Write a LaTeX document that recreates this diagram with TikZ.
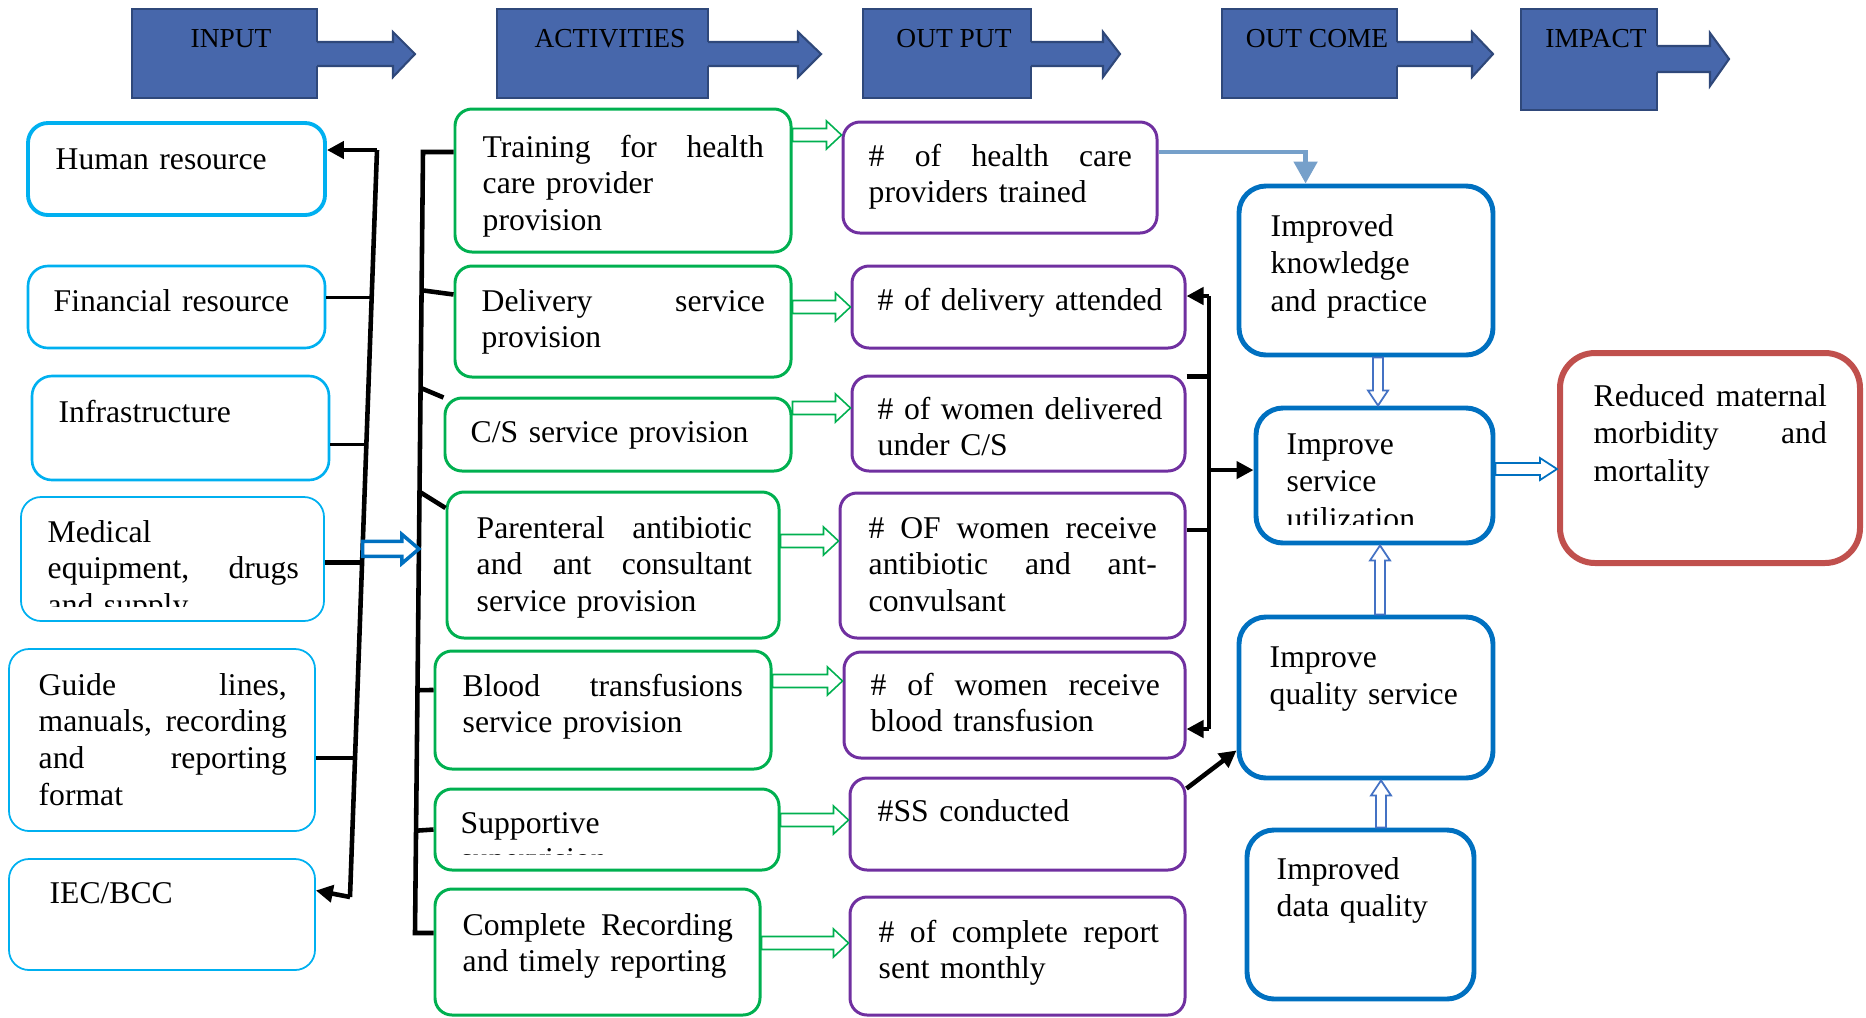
\documentclass[tikz,border=0pt]{standalone}
\usepackage{fontspec}
\setmainfont{Liberation Serif}
\usetikzlibrary{arrows.meta,calc,fit}
\definecolor{hdrfill}{RGB}{71,103,171}
\definecolor{hdredge}{RGB}{47,72,122}
\definecolor{incol}{RGB}{0,176,240}
\definecolor{actcol}{RGB}{0,176,80}
\definecolor{outcol}{RGB}{112,48,160}
\definecolor{occol}{RGB}{0,112,192}
\definecolor{impcol}{RGB}{192,80,77}
\definecolor{linkcol}{RGB}{118,160,202}
\definecolor{hollowcol}{RGB}{68,114,196}
\tikzset{
  box/.style={draw, rounded corners=0.17cm, inner sep=0pt},
  inbox/.style={box, draw=incol, line width=0.5pt, rounded corners=0.2cm},
  actbox/.style={box, draw=actcol, line width=0.85pt},
  outbox/.style={box, draw=outcol, line width=0.85pt},
  ocbox/.style={box, draw=occol, line width=1.4pt, rounded corners=0.27cm},
  impbox/.style={box, draw=impcol, line width=1.7pt, rounded corners=0.35cm},
  hdr/.style={draw=hdredge, fill=hdrfill, line width=0.6pt, inner sep=0pt},
  hdrtxt/.style={font=\fontsize{7.8}{9}\selectfont, inner sep=0pt, anchor=base},
  txt/.style={font=\fontsize{9}{10.5}\selectfont, inner sep=0pt, anchor=base west, align=left, text width=3.2cm},
  octxt/.style={txt, font=\fontsize{9}{10.8}\selectfont},
  brk/.style={line width=1.3pt},
  thin brk/.style={line width=0.9pt},
  hblk/.style n args={3}{to path={let \p1=(\tikztostart), \p2=(\tikztotarget) in
    ({\x1},{\y1+#1}) -- ({\x2-#3},{\y1+#1}) -- ({\x2-#3},{\y1+#2}) -- ({\x2},{\y1})
    -- ({\x2-#3},{\y1-#2}) -- ({\x2-#3},{\y1-#1}) -- ({\x1},{\y1-#1}) -- cycle}},
  vblk/.style n args={3}{to path={let \p1=(\tikztostart), \p2=(\tikztotarget),
    \p3=($(\x1,\y2)!#3!(\x1,\y1)$) in
    ({\x1-#1},{\y1}) -- ({\x1-#1},{\y3}) -- ({\x1-#2},{\y3}) -- ({\x1},{\y2})
    -- ({\x1+#2},{\y3}) -- ({\x1+#1},{\y3}) -- ({\x1+#1},{\y1}) -- cycle}},
  garrow/.style={draw=actcol, fill=white, line width=0.45pt, hblk={0.065cm}{0.14cm}{0.15cm}},
  barrow/.style={draw=occol, fill=white, line width=1pt, hblk={0.075cm}{0.145cm}{0.17cm}},
  varrow/.style={draw=hollowcol, fill=white, line width=0.5pt, vblk={0.05cm}{0.1cm}{0.15cm}},
  rarrow/.style={draw=occol, fill=white, line width=0.5pt, hblk={0.06cm}{0.11cm}{0.17cm}},
}
\begin{document}
\begin{tikzpicture}[x=0.01cm, y=-0.01cm, >={Triangle[length=0.17cm,width=0.17cm]}]
\useasboundingbox (0,0) rectangle (1866,1017);
% header row
\node[hdr, fit={(132,9) (317,98)}] (hin) {};
\fill[hdrfill] (315,42) -- (393,42) -- (393,32) -- (415,54) -- (393,77) -- (393,66) -- (315,66) -- cycle;
\draw[hdredge, line width=0.6pt] (317,42) -- (393,42) -- (393,32) -- (415,54) -- (393,77) -- (393,66) -- (317,66);
\node[hdrtxt] (hin-t) at (231,47) {INPUT};
\node[hdr, fit={(497,9) (708,98)}] (hact) {};
\fill[hdrfill] (706,42) -- (798,42) -- (798,32) -- (821,54) -- (798,77) -- (798,66) -- (706,66) -- cycle;
\draw[hdredge, line width=0.6pt] (708,42) -- (798,42) -- (798,32) -- (821,54) -- (798,77) -- (798,66) -- (708,66);
\node[hdrtxt] (hact-t) at (610,47) {ACTIVITIES};
\node[hdr, fit={(863,9) (1031,98)}] (hout) {};
\fill[hdrfill] (1029,42) -- (1103,42) -- (1103,32) -- (1120,54) -- (1103,77) -- (1103,66) -- (1029,66) -- cycle;
\draw[hdredge, line width=0.6pt] (1031,42) -- (1103,42) -- (1103,32) -- (1120,54) -- (1103,77) -- (1103,66) -- (1031,66);
\node[hdrtxt] (hout-t) at (954,47) {OUT PUT};
\node[hdr, fit={(1222,9) (1397,98)}] (hoc) {};
\fill[hdrfill] (1395,42) -- (1472,42) -- (1472,32) -- (1493,54) -- (1472,77) -- (1472,66) -- (1395,66) -- cycle;
\draw[hdredge, line width=0.6pt] (1397,42) -- (1472,42) -- (1472,32) -- (1493,54) -- (1472,77) -- (1472,66) -- (1397,66);
\node[hdrtxt] (hoc-t) at (1317,47) {OUT COME};
\node[hdr, fit={(1521,9) (1657,110)}] (himp) {};
\fill[hdrfill] (1655,46) -- (1710,46) -- (1710,33) -- (1729,59) -- (1710,86) -- (1710,72) -- (1655,72) -- cycle;
\draw[hdredge, line width=0.6pt] (1657,46) -- (1710,46) -- (1710,33) -- (1729,59) -- (1710,86) -- (1710,72) -- (1657,72);
\node[hdrtxt] (himp-t) at (1596,47) {IMPACT};

% input boxes
\node[inbox, line width=1.1pt, fit={(28,123) (325,215)}] (hr) {};
\node[inbox, line width=0.75pt, fit={(28,266) (325,348)}] (fin) {};
\node[inbox, line width=0.75pt, fit={(32,376) (329,480)}] (infra) {};
\node[inbox, fit={(21,497) (324,621)}] (med) {};
\node[inbox, fit={(9,649) (315,831)}] (guide) {};
\node[inbox, fit={(9,859) (315,970)}] (iec) {};
\node[txt] (hr-t) at (55,169) {Human resource};
\node[txt] (fin-t) at (53,311) {Financial resource};
\node[txt] (infra-t) at (58,422) {Infrastructure};
\begin{scope}
\clip (med.north west) rectangle (med.east |- 0,606);
\node[txt, text width=2.51cm] (med-t) at (47,542) {Medical\\ equipment,\hfill drugs\\ and supply};
\end{scope}
\node[txt, text width=2.48cm] (guide-t) at (38,695) {Guide\hfill lines,\\ manuals,\hfill recording\\ and\hfill reporting\\ format};
\node[txt] (iec-t) at (49,903) {IEC/BCC};

% activity boxes
\node[actbox, fit={(455,109) (791,252)}] (trn) {};
\node[actbox, fit={(455,266) (791,377)}] (dlv) {};
\node[actbox, fit={(445,398) (791,471)}] (csp) {};
\node[actbox, fit={(447,492) (779,638)}] (par) {};
\node[actbox, fit={(435,651) (771,769)}] (bts) {};
\node[actbox, fit={(435,789) (779,870)}] (sup) {};
\node[actbox, fit={(435,889) (760,1015)}] (crr) {};
\node[txt, text width=2.81cm] (trn-t) at (482,157) {Training\hfill for\hfill health\\ care provider\\ provision};
\node[txt, text width=2.83cm] (dlv-t) at (481,311) {Delivery\hfill service\\ provision};
\node[txt] (csp-t) at (470,442) {C/S service provision};
\node[txt, text width=2.75cm] (par-t) at (476,538) {Parenteral\hfill antibiotic\\ and\hfill ant\hfill consultant\\ service provision};
\node[txt, text width=2.80cm] (bts-t) at (462,696) {Blood\hfill transfusions\\ service provision};
\begin{scope}
\clip (sup.north west) rectangle (sup.east |- 0,854);
\node[txt] (sup-t) at (460,833) {Supportive\\ supervision};
\end{scope}
\node[txt, text width=2.70cm] (crr-t) at (462,935) {Complete\hfill Recording\\ and timely reporting};

% output boxes
\node[outbox, fit={(843,122) (1157,233)}] (hcp) {};
\node[outbox, fit={(852,266) (1185,348)}] (del) {};
\node[outbox, fit={(852,376) (1185,471)}] (csd) {};
\node[outbox, fit={(840,493) (1185,638)}] (abx) {};
\node[outbox, fit={(844,652) (1185,758)}] (bld) {};
\node[outbox, fit={(850,778) (1185,870)}] (ssc) {};
\node[outbox, fit={(850,897) (1185,1015)}] (rep) {};
\node[txt, text width=2.63cm] (hcp-t) at (868,166) {\#\hfill of\hfill health\hfill care\\ providers trained};
\node[txt] (del-t) at (877,310) {\# of delivery attended};
\node[txt] (csd-t) at (877,419) {\# of women delivered\\ under C/S};
\node[txt, text width=2.88cm] (abx-t) at (868,538) {\#\hfill OF\hfill women\hfill receive\\ antibiotic\hfill and\hfill ant-\\ convulsant};
\node[txt, text width=2.89cm] (bld-t) at (870,695) {\#\hfill of\hfill women\hfill receive\\ blood transfusion};
\node[txt] (ssc-t) at (877,821) {\#SS conducted};
\node[txt, text width=2.80cm] (rep-t) at (878,942) {\#\hfill of\hfill complete\hfill report\\ sent monthly};

% outcome and impact boxes
\node[ocbox, fit={(1239,186) (1493,355)}] (know) {};
\node[ocbox, fit={(1256,408) (1493,543)}] (util) {};
\node[ocbox, fit={(1239,617) (1493,778)}] (qual) {};
\node[ocbox, fit={(1247,830) (1474,999)}] (data) {};
\node[impbox, fit={(1560,353) (1860,563)}] (red) {};
\node[octxt] (know-t) at (1270,236) {Improved\\ knowledge\\ and practice};
\begin{scope}
\clip (util.north west) rectangle (util.east |- 0,524);
\node[octxt] (util-t) at (1286,454) {Improve\\ service\\ utilization};
\end{scope}
\node[octxt] (qual-t) at (1269,667) {Improve\\ quality service};
\node[octxt] (data-t) at (1276,879) {Improved\\ data quality};
\node[octxt, text width=2.33cm] (red-t) at (1593,406) {Reduced\hfill maternal\\ morbidity\hfill and\\ mortality};

% input bracket
\coordinate (is1) at (377,150);
\coordinate (is2) at (350,897);
\path (is1) -- (is2) coordinate[pos=0.197] (ib1) coordinate[pos=0.394] (ib2)
  coordinate[pos=0.552] (ib3) coordinate[pos=0.814] (ib4) coordinate[pos=0.534] (ibx);
\draw[brk] (is1) -- (is2);
\draw[brk, ->] (is1) -- (hr.east |- is1);
\draw[brk, ->] (is2) -- ([yshift=0.24cm]iec.east);
\draw[thin brk] (fin.east |- ib1) -- (ib1);
\draw[thin brk] (infra.east |- ib2) -- (ib2);
\draw[brk] (med.east |- ib3) -- (ib3);
\draw[brk] (guide.east |- ib4) -- (ib4);

% activity bracket
\coordinate (as1) at (423,152);
\coordinate (as2) at (415,933);
\path (as1) -- (as2) coordinate[pos=0.177] (ab1) coordinate[pos=0.302] (ab2)
  coordinate[pos=0.435] (ab3) coordinate[pos=0.689] (ab4) coordinate[pos=0.869] (ab5)
  coordinate[pos=0.508] (abx2);
\draw[brk] (trn.west |- as1) -- (as1) -- (as2) -- (crr.west |- as2);
\draw[brk] (ab1) -- ([yshift=0.27cm]dlv.west);
\draw[brk] (ab2) -- ([yshift=0.37cm]csp.west);
\draw[brk] (ab3) -- ([yshift=0.57cm]par.west);
\draw[brk] (ab4) -- ([yshift=0.2cm]bts.west);
\draw[brk] (ab5) -- (sup.west);
\draw[barrow] (ibx) to (abx2);

% activity to output
\draw[garrow] ([yshift=0.455cm]trn.east) to (hcp.west);
\draw[garrow] ([yshift=0.145cm]dlv.east) to (del.west);
\draw[garrow] ([yshift=0.265cm]csp.east) to (csd.west);
\draw[garrow] ([yshift=0.24cm]par.east) to (abx.west);
\draw[garrow] ([yshift=0.29cm]bts.east) to (bld.west);
\draw[garrow] ([yshift=0.095cm]sup.east) to (ssc.west);
\draw[garrow] ([yshift=0.09cm]crr.east) to (rep.west);

% output bracket
\coordinate (os1) at (1209,296);
\coordinate (os2) at (1209,729);
\coordinate (osm) at ($(os1)!0.402!(os2)$);
\coordinate (csr) at ([yshift=-0.02cm]csd.north east);
\coordinate (abr) at ([yshift=0.355cm]abx.east);
\draw[brk] (os1) -- (os2);
\draw[brk, ->] (os1) -- (del.east |- os1);
\draw[brk, ->] (os2) -- (bld.east |- os2);
\draw[brk] (csr) -- (csr -| os1);
\draw[brk] (abr) -- (abr -| os1);
\draw[brk, ->] (osm) -- (util.west |- osm);
\draw[brk, ->] ([yshift=-0.12cm]ssc.north east) -- ([yshift=0.3cm]qual.south west);
\draw[linkcol, line width=1.4pt, -{Triangle[length=0.22cm,width=0.23cm]}]
  ([yshift=0.255cm]hcp.east) -| ([xshift=0.69cm]know.north west);

% outcome links
\draw[varrow] ([xshift=0.12cm]know.south) to ([xshift=0.12cm]util.north);
\draw[varrow] ([xshift=0.14cm]qual.north) to ([xshift=0.14cm]util.south);
\draw[varrow] ([xshift=0.205cm]data.north) to ([xshift=0.205cm]qual.south);
\draw[rarrow] ([yshift=0.065cm]util.east) to (red.west);
\end{tikzpicture}
\end{document}
